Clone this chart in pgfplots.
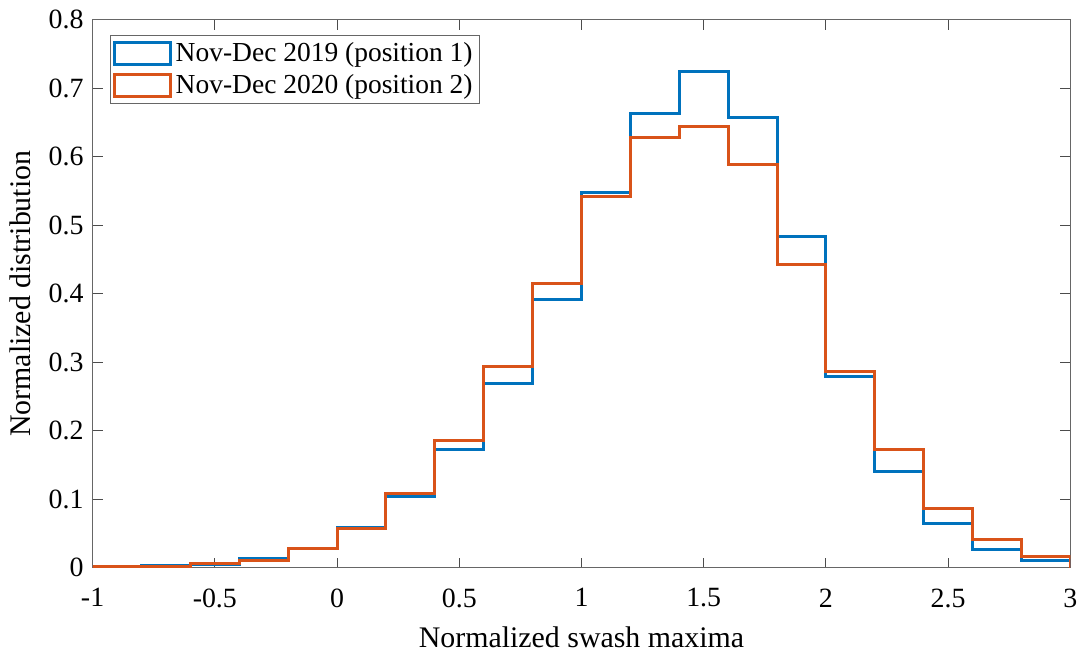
\documentclass[border=0pt]{standalone}
\usepackage{pgfplots}
\pgfplotsset{compat=1.18}
\usepackage{fontspec}
\setmainfont{Liberation Serif}

\definecolor{mblue}{rgb}{0,0.447,0.741}
\definecolor{morange}{rgb}{0.851,0.325,0.098}
\definecolor{axgray}{gray}{0.4}

\begin{document}
\begin{tikzpicture}
\begin{axis}[
  scale only axis,
  width=491pt, height=275pt,
  xmin=-1, xmax=3, ymin=0, ymax=0.8,
  xtick={-1,-0.5,0,0.5,1,1.5,2,2.5,3},
  ytick={0,0.1,0.2,0.3,0.4,0.5,0.6,0.7,0.8},
  /pgf/number format/assume math mode=true,
  tick label style={font=\fontsize{14}{16}\selectfont},
  label style={font=\fontsize{15}{18}\selectfont},
  xlabel={Normalized swash maxima},
  ylabel={Normalized distribution},
  xlabel style={yshift=-3pt},
  ylabel style={yshift=2pt},
  tick align=inside,
  tick pos=both,
  major tick length=5pt,
  axis line style={draw=axgray, line width=0.5pt},
  every tick/.style={draw=black!70, line width=0.5pt},
  xticklabel style={yshift=-7pt},
  yticklabel style={xshift=-1pt},
  legend style={
    at={(0.0173,0.9727)}, anchor=north west,
    draw=axgray, line width=0.5pt,
    font=\fontsize{13.8}{16}\selectfont,
    inner sep=1.5pt, row sep=1pt,
    legend cell align=left,
  },
  legend image code/.code={
    \draw[#1, line width=1.5pt] (0pt,-5.5pt) rectangle (28pt,5.5pt);
  },
]
\addplot[const plot, mblue, line width=1.5pt] coordinates {
  (-1,0) (-1,0.001) (-0.8,0.003) (-0.6,0.005) (-0.4,0.013) (-0.2,0.028)
  (0,0.059) (0.2,0.104) (0.4,0.173) (0.6,0.269) (0.8,0.391) (1.0,0.548)
  (1.2,0.664) (1.4,0.724) (1.6,0.657) (1.8,0.484) (2.0,0.279) (2.2,0.141)
  (2.4,0.065) (2.6,0.026) (2.8,0.010) (3.0,0.010) (3.0,0)
};
\addlegendentry{Nov-Dec 2019 (position 1)}
\addplot[const plot, morange, line width=1.5pt] coordinates {
  (-1,0) (-1,0.001) (-0.8,0.002) (-0.6,0.006) (-0.4,0.010) (-0.2,0.028)
  (0,0.057) (0.2,0.108) (0.4,0.185) (0.6,0.293) (0.8,0.415) (1.0,0.542)
  (1.2,0.628) (1.4,0.645) (1.6,0.589) (1.8,0.443) (2.0,0.286) (2.2,0.173)
  (2.4,0.086) (2.6,0.041) (2.8,0.016) (3.0,0.016) (3.0,0)
};
\addlegendentry{Nov-Dec 2020 (position 2)}
\end{axis}
\useasboundingbox ([shift={(-46.5pt,-41pt)}]current axis.south west) rectangle ([shift={(4.5pt,10pt)}]current axis.north east);
\end{tikzpicture}
\end{document}
